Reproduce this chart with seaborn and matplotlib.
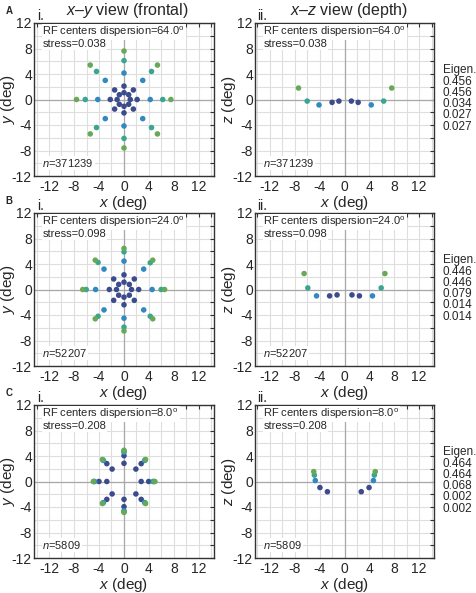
import matplotlib
matplotlib.use("Agg")
import matplotlib.pyplot as plt
import seaborn as sns
import pandas as pd
from matplotlib.ticker import MultipleLocator

sns.set_style("white")
plt.rcParams['font.family'] = ['Liberation Sans', 'DejaVu Sans']
plt.rcParams['mathtext.fontset'] = 'custom'
plt.rcParams['mathtext.rm'] = 'Liberation Sans'
plt.rcParams['mathtext.it'] = 'Liberation Sans:italic'
plt.rcParams['axes.unicode_minus'] = False

# colours of the eccentricity groups (inner -> outer)
group_colors = {0: '#3b4b8c', 1: '#3189bf', 2: '#3aa68f', 3: '#67a957'}

# ---- panel A (dispersion 64) ----
a_xy_x = [1.0, 2.1, -1.1, -2.2, 0, 0, 0, 0, 0.75, 1.5, -0.75, -1.5, -0.75, -1.5, 0.75, 1.5,
          4.2, -4.2, 0, 0, 3.0, -3.0, -3.0, 3.0,
          6.2, -6.2, 0, 0, 4.4, -4.4, -4.4, 4.4,
          7.5, -7.6, 0, 0, 5.35, -5.4, -5.4, 5.35]
a_xy_y = [0, 0, 0, 0, 1.07, 2.1, -1.07, -2.1, 0.75, 1.5, 0.75, 1.5, -0.75, -1.5, -0.75, -1.5,
          0, 0, 4.15, -4.15, 3.0, 3.0, -3.0, -3.0,
          0, 0, 6.1, -6.1, 4.4, 4.4, -4.4, -4.4,
          0, 0, 7.6, -7.6, 5.4, 5.4, -5.4, -5.4]
a_xz_x = [-2.0, -0.9, 1.1, 2.2, -4.1, 4.3, -6.0, 6.3, -7.4, 7.6]
a_xz_z = [-0.45, -0.25, -0.25, -0.45, -0.85, -0.85, -0.25, -0.25, 1.8, 1.8]

# ---- panel B (dispersion 24) ----
b_xy_x = [1.2, 2.35, -1.2, -2.35, 0, 0, 0, 0, 0.85, 1.65, -0.85, -1.65, -0.85, -1.65, 0.85, 1.65,
          4.5, -4.55, 0, 0, 3.15, -3.2, -3.2, 3.15,
          5.95, -6.05, 0, 0, 4.2, -4.15, -4.15, 4.2,
          6.5, -6.6, 0, 0, 4.6, -4.6, -4.6, 4.6]
b_xy_y = [0, 0, 0, 0, 1.15, 2.3, -1.2, -2.4, 0.8, 1.65, 0.8, 1.65, -0.9, -1.7, -0.9, -1.7,
          0, 0, 4.45, -4.5, 3.2, 3.2, -3.2, -3.2,
          0, 0, 5.9, -5.9, 4.2, 4.25, -4.2, -4.2,
          0, 0, 6.45, -6.5, 4.6, 4.6, -4.6, -4.6]
b_xz_x = [-2.4, -1.2, 1.2, 2.4, -4.5, 4.5, -5.9, 5.9, -6.5, 6.5]
b_xz_z = [-1.0, -0.85, -0.85, -1.0, -1.0, -1.0, 0.25, 0.25, 2.5, 2.5]

# ---- panel C (dispersion 8) ----
c_xy_x = [2.75, 3.95, -2.75, -4.0, 0, 0, 0, 0, 1.9, 2.75, -1.9, -2.75, -1.9, -2.75, 1.9, 2.75,
          4.65, -4.7, 0, 0, 3.3, -3.3, -3.3, 3.3,
          4.8, -4.85, 0, 0, 3.4, -3.4, -3.4, 3.4,
          4.95, -4.9, 0, 0, 3.45, -3.45, -3.45, 3.45]
c_xy_y = [0, 0, 0, 0, 2.85, 4.05, -2.8, -3.95, 1.95, 2.8, 1.95, 2.8, -1.95, -2.8, -1.95, -2.8,
          0, 0, 4.6, -4.6, 3.3, 3.3, -3.3, -3.3,
          0, 0, 4.75, -4.75, 3.4, 3.4, -3.4, -3.4,
          0, 0, 4.9, -4.85, 3.45, 3.45, -3.45, -3.45]
c_xz_x = [-3.95, -2.75, 2.7, 3.95, -4.7, 4.65, -4.85, 4.8, -4.95, 4.95]
c_xz_z = [-0.95, -1.6, -1.6, -0.95, 0.15, 0.15, 1.0, 1.0, 1.55, 1.55]

xy_groups = [0] * 16 + [1] * 8 + [2] * 8 + [3] * 8
xz_groups = [0, 0, 0, 0, 1, 1, 2, 2, 3, 3]

labels = ['A', 'B', 'C']
dispersion = [64.0, 24.0, 8.0]
stress = [0.038, 0.098, 0.208]
n_pairs = [371239, 52207, 5809]
eigen = [[0.456, 0.456, 0.034, 0.027, 0.027],
         [0.446, 0.446, 0.079, 0.014, 0.014],
         [0.464, 0.464, 0.068, 0.002, 0.002]]

xy_data = [(a_xy_x, a_xy_y), (b_xy_x, b_xy_y), (c_xy_x, c_xy_y)]
xz_data = [(a_xz_x, a_xz_z), (b_xz_x, b_xz_z), (c_xz_x, c_xz_z)]

W, H = 476, 593
fig = plt.figure(figsize=(W / 100, H / 100), dpi=100)

col_left = [34, 255]
col_width = [180, 179]
row_top = [23, 213, 405]
ax_h = 153
box = dict(facecolor='white', edgecolor='none', pad=0.6)


def style_axis(ax, ylab):
    ax.set_xlim(-14.4, 14.4)
    ax.set_ylim(-12, 12)
    ax.xaxis.set_major_locator(MultipleLocator(4))
    ax.yaxis.set_major_locator(MultipleLocator(4))
    ax.xaxis.set_minor_locator(MultipleLocator(2))
    ax.yaxis.set_minor_locator(MultipleLocator(2))
    ax.grid(which='both', color='#dedede', lw=0.8, zorder=0)
    ax.axhline(0, color='#a8a8a8', lw=0.9, zorder=1)
    ax.axvline(0, color='#a8a8a8', lw=0.9, zorder=1)
    ax.tick_params(which='both', direction='in', top=True, right=True,
                   length=3, width=0.8, color='#333333', labelsize=10, pad=1.5)
    ax.tick_params(axis='x', which='major', pad=3)
    for s in ax.spines.values():
        s.set_color('#333333')
        s.set_linewidth(1.0)
    ax.set_xlabel('$x$ (deg)', fontsize=11)
    ax.set_ylabel(ylab, fontsize=11)
    ax.xaxis.set_label_coords(0.5, -0.115)
    ax.yaxis.set_label_coords(-0.095, 0.5)


for r in range(3):
    for c in range(2):
        left = col_left[c] / W
        bottom = 1 - (row_top[r] + ax_h) / H
        ax = fig.add_axes([left, bottom, col_width[c] / W, ax_h / H])
        if c == 0:
            xs, ys = xy_data[r]
            grp = xy_groups
            ylab = '$y$ (deg)'
        else:
            xs, ys = xz_data[r]
            grp = xz_groups
            ylab = '$z$ (deg)'
        df = pd.DataFrame({'x': xs, 'y': ys, 'g': grp})
        sns.scatterplot(data=df, x='x', y='y', hue='g', palette=group_colors,
                        s=16, linewidth=0, legend=False, ax=ax, zorder=3)
        style_axis(ax, ylab)
        ax.text(0.047, 0.94, 'RF centers dispersion=%.1f$^{\\mathrm{o}}$' % dispersion[r],
                transform=ax.transAxes, fontsize=8, va='center', ha='left', bbox=box, zorder=4)
        ax.text(0.047, 0.862, 'stress=%.3f' % stress[r],
                transform=ax.transAxes, fontsize=8, va='center', ha='left', bbox=box, zorder=4)
        ax.text(0.047, 0.085, '$n$=%d' % n_pairs[r],
                transform=ax.transAxes, fontsize=8, va='center', ha='left', bbox=box, zorder=4)
        ax.text(0.015 if c == 0 else 0.01, 1.045, 'i.' if c == 0 else 'ii.',
                transform=ax.transAxes, fontsize=10, va='center', ha='left')
        if c == 1:
            txt = 'Eigen.\n' + '\n'.join('%.3f' % v for v in eigen[r])
            ax.text(1.05, 0.73, txt, transform=ax.transAxes, fontsize=8.5,
                    va='top', ha='left', linespacing=0.92)
    fig.text(9 / W, 1 - (row_top[r] - 12) / H, labels[r], fontsize=7,
             fontweight='bold', va='center', ha='center')

fig.text(127 / W, 1 - 10 / H, '$x$–$y$ view (frontal)', fontsize=11.5, ha='center', va='center')
fig.text(349 / W, 1 - 10 / H, '$x$–$z$ view (depth)', fontsize=11.5, ha='center', va='center')

fig.savefig('out.png', dpi=100)
